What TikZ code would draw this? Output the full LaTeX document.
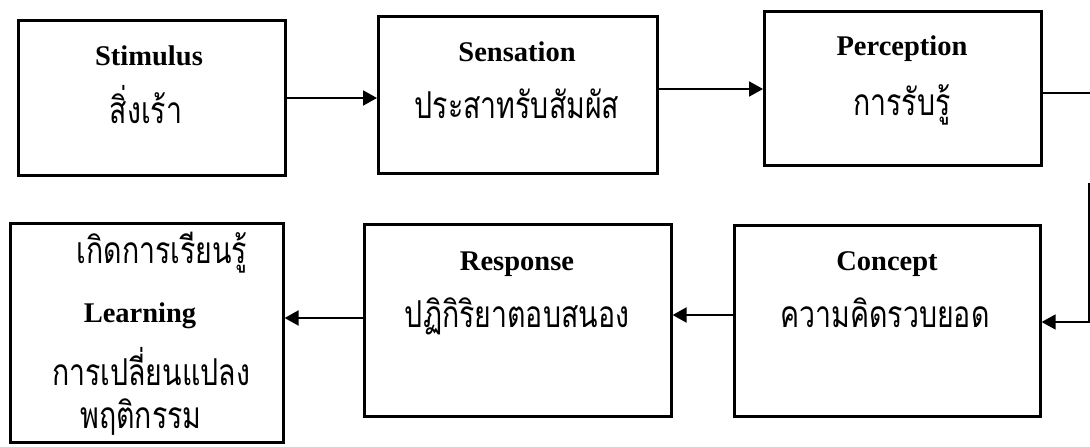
\documentclass[tikz,border=0pt]{standalone}
\usepackage{fontspec}
\usepackage{graphicx}
\setmainfont{Liberation Serif}
\newfontfamily\thai[Script=Thai]{Loma}
\newcommand{\tht}[1]{\scalebox{1.0}[1.3]{#1}}
\usetikzlibrary{arrows.meta}
\tikzset{
  box/.style={draw, line width=2.6pt, inner sep=0pt, anchor=north west},
  eng/.style={font=\fontsize{28.5}{30}\selectfont\bfseries, anchor=base, inner sep=0pt},
  th/.style={font=\thai\fontsize{28.5}{30}\selectfont, anchor=base, inner sep=0pt},
  conn/.style={line width=2pt, -{Triangle[length=14pt,width=15pt]}},
  plain/.style={line width=2pt},
}
\begin{document}
\begin{tikzpicture}[x=1pt,y=-1pt]
\useasboundingbox (0,0) rectangle (1090,447);
% boxes
\node[box, minimum width=267pt, minimum height=155pt] (stim) at (17,19) {};
\node[box, minimum width=279pt, minimum height=157pt] (sens) at (377,15) {};
\node[box, minimum width=277pt, minimum height=154pt] (perc) at (763,10) {};
\node[box, minimum width=306pt, minimum height=191pt] (conc) at (733,224) {};
\node[box, minimum width=307pt, minimum height=192pt] (resp) at (363,223) {};
\node[box, minimum width=273pt, minimum height=219pt] (learn) at (9,222) {};
% texts
\node[eng] (t1) at (149,65) {Stimulus};
\node[th] (t1t) at (146,123) {\tht{สิ่งเร้า}};
\node[eng] (t2) at (517,61) {Sensation};
\node[th] (t2t) at (517,118) {\tht{ประสาทรับสัมผัส}};
\node[eng] (t3) at (902,55) {Perception};
\node[th] (t3t) at (902,115) {\tht{การรับรู้}};
\node[eng] (t4) at (887,270) {Concept};
\node[th] (t4t) at (885,327) {\tht{ความคิดรวบยอด}};
\node[eng] (t5) at (517,270) {Response};
\node[th] (t5t) at (517,327) {\tht{ปฏิกิริยาตอบสนอง}};
\node[th] (t6a) at (162,263) {\tht{เกิดการเรียนรู้}};
\node[eng] (t6b) at (140,322) {Learning};
\node[th] (t6c) at (151,385) {\tht{การเปลี่ยนแปลง}};
\node[th] (t6d) at (141,428) {\tht{พฤติกรรม}};
% connectors
\coordinate (e1) at (1090,93);
\coordinate (e2) at (1089,183);
\coordinate (e3) at (1089,322);
\draw[conn] (stim.east |- 0,98) -- (sens.west |- 0,98);
\draw[conn] (sens.east |- 0,89) -- (perc.west |- 0,89);
\draw[plain] (perc.east |- e1) -- (e1);
\draw[conn, line width=1.6pt] (e2) -- (e3) -- (conc.east |- e3);
\draw[conn] (conc.west |- 0,315) -- (resp.east |- 0,315);
\draw[conn] (resp.west |- 0,318) -- (learn.east |- 0,318);
\end{tikzpicture}
\end{document}
